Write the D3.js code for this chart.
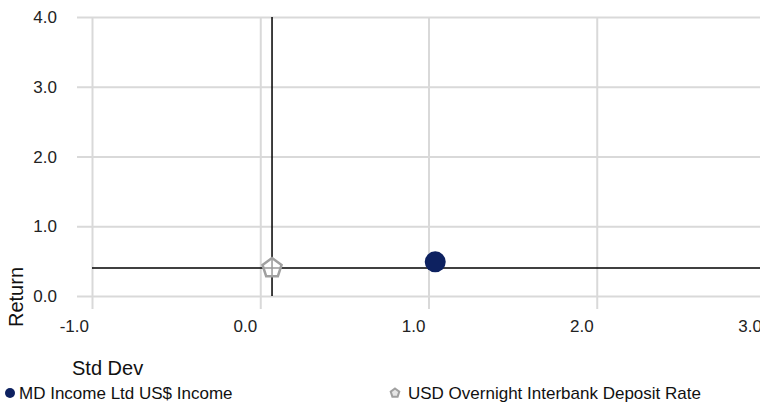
<!DOCTYPE html>
<html>
<head>
<meta charset="utf-8">
<script src="https://cdn.jsdelivr.net/npm/d3@7"></script>
<style>
  body { margin: 0; background: #fff; overflow: hidden; }
  text { font-family: "Liberation Sans", Arial, sans-serif; }
</style>
</head>
<body>
<div id="chart"></div>
<script>
// chart size
const width = 760;
const height = 403;

// data
const seriesNames = ["MD Income Ltd US$ Income", "USD Overnight Interbank Deposit Rate"];
const stdDev = [1.04, 0.07];
const returns = [0.49, 0.40];
const xTicks = [-1, 0, 1, 2, 3];
const yTicks = [0, 1, 2, 3, 4];

const svg = d3.select("#chart")
    .append("svg")
    .attr("width", width)
    .attr("height", height);

// scales
const xScale = d3.scaleLinear().domain([-1, 3]).range([92, 765]);
const yScale = d3.scaleLinear().domain([0, 4]).range([296, 17]);

// grid
svg.append("g")
    .attr("transform", "translate(0,296)")
    .call(d3.axisBottom(xScale).tickValues(xTicks).tickSize(-279).tickSizeOuter(0).tickFormat(""))
    .call(g => g.select(".domain").remove())
    .call(g => g.selectAll("line").attr("stroke", "#d9d9d9").attr("stroke-width", 2).attr("y1", 13));

svg.append("g")
    .attr("transform", "translate(92,0)")
    .call(d3.axisLeft(yScale).tickValues(yTicks).tickSize(-(width - 92)).tickSizeOuter(0).tickFormat(""))
    .call(g => g.select(".domain").remove())
    .call(g => g.selectAll("line").attr("stroke", "#d9d9d9").attr("stroke-width", 2).attr("x1", -15));

// tick labels
svg.append("g").selectAll("text")
    .data(xTicks)
    .join("text")
    .attr("x", d => xScale(d) - 3)
    .attr("y", 332)
    .attr("text-anchor", "end")
    .attr("font-size", 17)
    .attr("fill", "#222")
    .text(d => d.toFixed(1));

svg.append("g").selectAll("text")
    .data(yTicks)
    .join("text")
    .attr("x", 57)
    .attr("y", d => yScale(d) + 6)
    .attr("text-anchor", "end")
    .attr("font-size", 17)
    .attr("fill", "#222")
    .text(d => d.toFixed(1));

// crosshair through the risk-free point
const rf = 1;
svg.append("line")
    .attr("x1", xScale(stdDev[rf])).attr("x2", xScale(stdDev[rf]))
    .attr("y1", yScale(4)).attr("y2", yScale(0))
    .attr("stroke", "#000").attr("stroke-width", 1.5);
svg.append("line")
    .attr("x1", xScale(-1)).attr("x2", width)
    .attr("y1", yScale(returns[rf])).attr("y2", yScale(returns[rf]))
    .attr("stroke", "#000").attr("stroke-width", 1.5);

// points
const pentagon = (cx, cy, r) => d3.range(5).map(i => {
    const a = -Math.PI / 2 + i * 2 * Math.PI / 5;
    return [cx + r * Math.cos(a), cy + r * Math.sin(a)];
});

svg.append("circle")
    .attr("cx", xScale(stdDev[0]))
    .attr("cy", yScale(returns[0]))
    .attr("r", 10.5)
    .attr("fill", "#0d2160");

svg.append("polygon")
    .attr("points", pentagon(xScale(stdDev[1]), yScale(returns[1]), 10).join(" "))
    .attr("fill", "#fff")
    .attr("fill-opacity", 0.6)
    .attr("stroke", "#a0a0a0")
    .attr("stroke-width", 2.5);

// axis titles
svg.append("text")
    .attr("transform", "translate(23,297) rotate(-90)")
    .attr("text-anchor", "middle")
    .attr("font-size", 20)
    .attr("fill", "#111")
    .text("Return");

svg.append("text")
    .attr("x", 72)
    .attr("y", 375)
    .attr("font-size", 20)
    .attr("fill", "#111")
    .text("Std Dev");

// legend
svg.append("circle").attr("cx", 10).attr("cy", 393).attr("r", 5).attr("fill", "#0d2160");
svg.append("text").attr("x", 19).attr("y", 399).attr("font-size", 17).attr("fill", "#111").text(seriesNames[0]);

svg.append("polygon")
    .attr("points", pentagon(395, 393, 4.5).join(" "))
    .attr("fill", "#e6e6e6")
    .attr("stroke", "#a0a0a0")
    .attr("stroke-width", 2);
svg.append("text").attr("x", 408).attr("y", 399).attr("font-size", 17).attr("fill", "#111").text(seriesNames[1]);
</script>
</body>
</html>
